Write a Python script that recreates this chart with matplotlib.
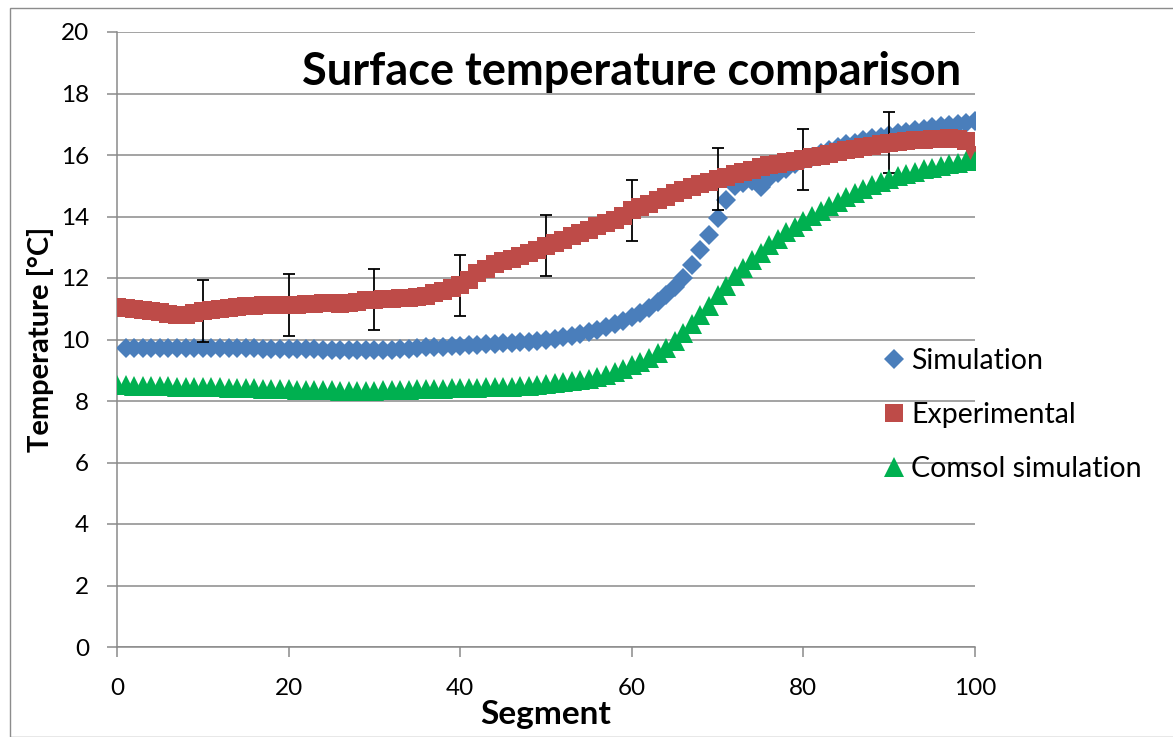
import numpy as np
import matplotlib
matplotlib.use("Agg")
import matplotlib.pyplot as plt
from matplotlib.patches import Rectangle

plt.rcParams['font.family'] = ['Lato', 'DejaVu Sans']

# Segment positions
segments_sim = list(range(1, 101))
segments_exp = list(range(0, 101))
segments_comsol = list(range(0, 101))

# Simulated surface temperature [°C], segments 1..100
simulation = [
    9.72, 9.72, 9.72, 9.72, 9.73, 9.73, 9.73, 9.73, 9.73, 9.72,
    9.72, 9.72, 9.72, 9.71, 9.71, 9.71, 9.70, 9.70, 9.70, 9.69,
    9.69, 9.68, 9.68, 9.67, 9.67, 9.67, 9.66, 9.66, 9.66, 9.66,
    9.66, 9.67, 9.68, 9.70, 9.72, 9.74, 9.76, 9.77, 9.78, 9.80,
    9.81, 9.82, 9.84, 9.85, 9.87, 9.89, 9.91, 9.93, 9.95, 9.98,
    10.02, 10.07, 10.12, 10.18, 10.25, 10.32, 10.40, 10.50, 10.60, 10.72,
    10.86, 11.02, 11.22, 11.45, 11.70, 12.00, 12.42, 12.90, 13.40, 13.95,
    14.55, 15.00, 15.10, 15.15, 14.95, 15.25, 15.40, 15.55, 15.70, 15.85,
    15.95, 16.05, 16.15, 16.25, 16.35, 16.40, 16.50, 16.55, 16.60, 16.65,
    16.70, 16.75, 16.80, 16.85, 16.90, 16.95, 16.98, 17.00, 17.05, 17.10,
]

# Measured surface temperature [°C], segments 0..100
experimental = [
    11.05,
    11.03, 11.00, 10.97, 10.93, 10.88, 10.83, 10.80, 10.80, 10.85, 10.92,
    10.97, 11.00, 11.03, 11.05, 11.08, 11.10, 11.12, 11.12, 11.12, 11.12,
    11.13, 11.15, 11.17, 11.18, 11.18, 11.17, 11.20, 11.23, 11.27, 11.30,
    11.32, 11.33, 11.35, 11.36, 11.38, 11.42, 11.50, 11.58, 11.66, 11.76,
    11.95, 12.15, 12.30, 12.45, 12.55, 12.62, 12.70, 12.80, 12.92, 13.05,
    13.15, 13.25, 13.35, 13.45, 13.55, 13.68, 13.80, 13.90, 14.03, 14.20,
    14.30, 14.42, 14.55, 14.65, 14.75, 14.85, 14.95, 15.05, 15.13, 15.22,
    15.30, 15.38, 15.45, 15.52, 15.60, 15.66, 15.72, 15.77, 15.82, 15.86,
    15.92, 15.98, 16.04, 16.10, 16.15, 16.20, 16.25, 16.30, 16.35, 16.40,
    16.43, 16.46, 16.48, 16.50, 16.52, 16.53, 16.54, 16.52, 16.45, 16.00,
]

# Measurement uncertainty, shown every 10th segment
error_segments = [10, 20, 30, 40, 50, 60, 70, 80, 90]
error_halfwidth = [1.0] * len(error_segments)

# COMSOL model surface temperature [°C], segments 0..100
comsol = [
    8.52,
    8.51, 8.50, 8.50, 8.49, 8.48, 8.48, 8.47, 8.46, 8.46, 8.45,
    8.44, 8.44, 8.43, 8.42, 8.42, 8.41, 8.40, 8.40, 8.39, 8.38,
    8.37, 8.37, 8.36, 8.35, 8.35, 8.34, 8.33, 8.33, 8.33, 8.34,
    8.35, 8.35, 8.36, 8.37, 8.38, 8.38, 8.39, 8.40, 8.41, 8.42,
    8.42, 8.43, 8.44, 8.45, 8.46, 8.47, 8.48, 8.50, 8.52, 8.55,
    8.58, 8.61, 8.64, 8.68, 8.72, 8.78, 8.86, 8.95, 9.05, 9.16,
    9.28, 9.41, 9.56, 9.72, 9.95, 10.22, 10.50, 10.80, 11.10, 11.45,
    11.75, 12.05, 12.32, 12.58, 12.82, 13.06, 13.28, 13.48, 13.67, 13.85,
    14.02, 14.18, 14.33, 14.47, 14.65, 14.78, 14.90, 15.01, 15.12, 15.22,
    15.31, 15.39, 15.46, 15.53, 15.59, 15.65, 15.70, 15.75, 15.79, 15.82,
]

x_ticks = [0, 20, 40, 60, 80, 100]
y_ticks = [0, 2, 4, 6, 8, 10, 12, 14, 16, 18, 20]

BLUE = '#4A7EBB'
RED = '#BE4B48'
GREEN = '#00B050'
GRID = '#8A8A8A'

W, H = 1173, 737
fig = plt.figure(figsize=(W / 100, H / 100), dpi=100)
fig.patch.set_facecolor('white')

# outer chart frame
fig.patches.append(Rectangle((10 / W, 0), 1.2, 1 - 8 / H, transform=fig.transFigure,
                             fill=False, edgecolor='#8C8C8C', linewidth=1.0))

ax = fig.add_axes([117 / W, 90 / H, 858 / W, 615 / H])
ax.set_xlim(0, 100)
ax.set_ylim(0, 20)

ax.set_axisbelow(True)
ax.yaxis.grid(True, color=GRID, linewidth=1.1)
ax.xaxis.grid(False)
for side in ('top', 'right'):
    ax.spines[side].set_visible(False)
for side in ('left', 'bottom'):
    ax.spines[side].set_color(GRID)
    ax.spines[side].set_linewidth(1.1)

ax.set_xticks(x_ticks)
ax.set_yticks(y_ticks)
ax.tick_params(axis='both', direction='out', length=7, width=1.1, color=GRID,
               labelsize=17.5)
ax.tick_params(axis='y', pad=13)
ax.tick_params(axis='x', pad=15)

ax.plot(segments_sim, simulation, linestyle='none', marker='D', markersize=10.5,
        color=BLUE, markeredgewidth=0, label='Simulation', zorder=3)
ax.errorbar(error_segments, [experimental[s] for s in error_segments], yerr=error_halfwidth,
            fmt='none', ecolor='black', elinewidth=1.3, capsize=4.3, capthick=1.3, zorder=3.5)
ax.plot(segments_exp, experimental, linestyle='none', marker='s', markersize=13.5,
        color=RED, markeredgewidth=0, label='Experimental', zorder=4)
ax.plot(segments_comsol, comsol, linestyle='none', marker='^', markersize=14,
        color=GREEN, markeredgewidth=0, label='Comsol simulation', zorder=5)

ax.set_xlabel('Segment', fontsize=24, fontweight='bold', labelpad=1)
ax.set_ylabel('Temperature [°C]', fontsize=21, fontweight='bold', labelpad=5)

fig.text(632 / W, 1 - 72 / H, 'Surface temperature comparison', ha='center', va='center',
         fontsize=32.5, fontweight='bold')

leg = fig.legend(loc='upper left', bbox_to_anchor=(884 / W, 1 - 348 / H), frameon=False,
                 fontsize=20.5, handlelength=0.7, handletextpad=0.25, labelspacing=0.98,
                 borderpad=0, borderaxespad=0)

fig.savefig('out.png', dpi=100)
